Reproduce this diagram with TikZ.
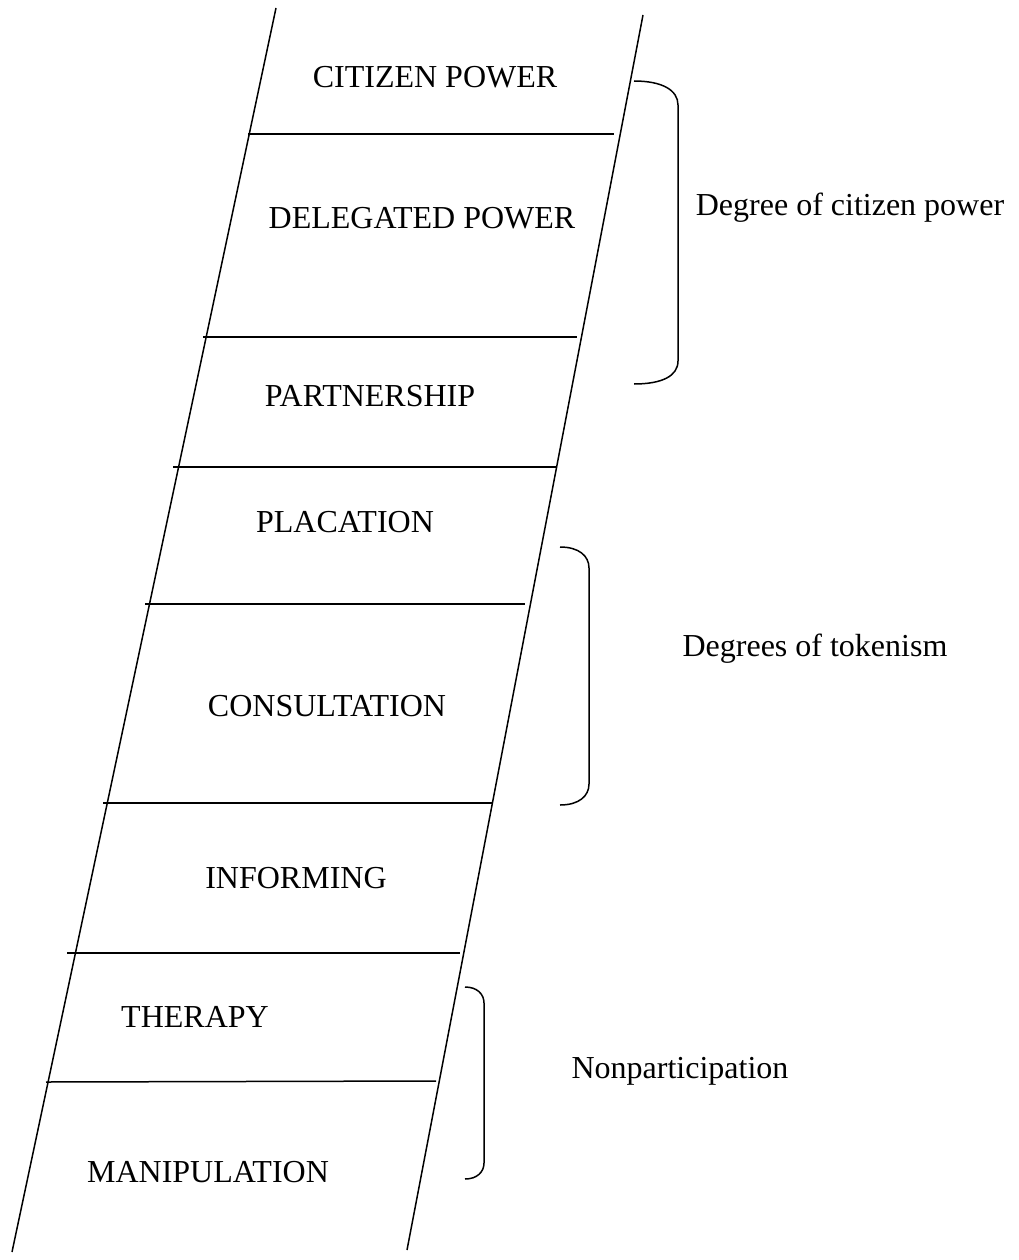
\documentclass[tikz,border=0pt]{standalone}
\usepackage{fontspec}
\setmainfont{Liberation Serif}
\begin{document}
\begin{tikzpicture}[x=1pt,y=-1pt,
  line/.style={line width=1.5pt,black},
  rung/.style={line width=1.5pt,black},
  brace/.style={line width=1.5pt,black},
  lbl/.style={anchor=base,inner sep=0pt,font=\fontsize{32}{38}\selectfont}]
\useasboundingbox (0,0) rectangle (1018,1260);
% rails
\coordinate (LT) at (276,8);
\coordinate (LB) at (12,1252);
\coordinate (RT) at (643,15);
\coordinate (RB) at (407,1250);
\draw[line] (LT) -- (LB);
\draw[line] (RT) -- (RB);
% rungs
\coordinate (r1a) at (248,134); \coordinate (r1b) at (614,134);
\coordinate (r2a) at (203,337); \coordinate (r2b) at (577,337);
\coordinate (r3a) at (173,467); \coordinate (r3b) at (557,467);
\coordinate (r4a) at (145,604); \coordinate (r4b) at (525,604);
\coordinate (r5a) at (103,803); \coordinate (r5b) at (492,803);
\coordinate (r6a) at (67,953);  \coordinate (r6b) at (460,953);
\coordinate (r7a) at (46,1082); \coordinate (r7b) at (436,1081);
\foreach \i in {1,...,7} {\draw[rung] (r\i a) -- (r\i b);}
% labels on rungs
\node[lbl] (cp)  at (435,88)   {CITIZEN POWER};
\node[lbl] (dp)  at (422,228)  {DELEGATED POWER};
\node[lbl] (pa)  at (370,406)  {PARTNERSHIP};
\node[lbl] (pl)  at (345,532)  {PLACATION};
\node[lbl] (co)  at (327,716)  {CONSULTATION};
\node[lbl] (inf) at (296,888)  {INFORMING};
\node[lbl] (th)  at (195,1027) {THERAPY};
\node[lbl] (ma)  at (208,1182) {MANIPULATION};
% braces
\coordinate (b1t) at (634,81);  \coordinate (b1b) at (634,384);
\coordinate (b2t) at (560,547); \coordinate (b2b) at (560,805);
\coordinate (b3t) at (465,987); \coordinate (b3b) at (465,1179);
\draw[brace] (b1t) .. controls (662,81) and (678,90) .. (678,105) -- (678,361)
  .. controls (678,376) and (662,384) .. (b1b);
\draw[brace] (b2t) .. controls (579,547) and (589,556) .. (589,568) -- (589,784)
  .. controls (589,796) and (579,805) .. (b2b);
\draw[brace] (b3t) .. controls (477,987) and (484,994) .. (484,1003) -- (484,1163)
  .. controls (484,1172) and (477,1179) .. (b3b);
% side labels
\node[lbl] (g1) at (850,215)  {Degree of citizen power};
\node[lbl] (g2) at (815,656)  {Degrees of tokenism};
\node[lbl] (g3) at (680,1078) {Nonparticipation};
\end{tikzpicture}
\end{document}
